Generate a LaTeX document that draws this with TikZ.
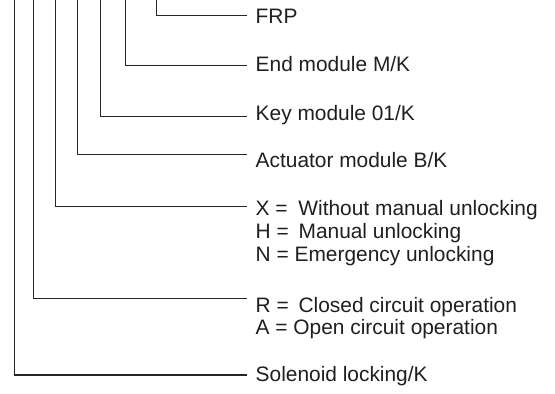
\documentclass[tikz,border=0pt]{standalone}
\usepackage{fontspec}
\setmainfont{Liberation Sans}
\begin{document}
\begin{tikzpicture}[x=1pt,y=1pt,
  lbl/.style={anchor=base west,inner sep=0pt,text=black!88,font=\fontsize{20.9}{22.8}\selectfont},
  conn/.style={draw=black!85,line width=1.1pt}]
\useasboundingbox (0,0) rectangle (555,394);
% labels (y = 394 - baseline in px)
\node[lbl] (frp) at (255.5,394-24) {FRP};
\node[lbl] (endm) at (255.5,394-72) {End module M/K};
\node[lbl] (key) at (255.5,394-120.7) {Key module 01/K};
\node[lbl] (act) at (255.5,394-167.7) {Actuator module B/K};
\node[lbl] (x) at (255.5,394-215.7) {X =\hspace{5pt} Without manual unlocking};
\node[lbl] (h) at (255.5,394-239) {H =\hspace{4pt} Manual unlocking};
\node[lbl] (n) at (255.5,394-261.5) {N = Emergency unlocking};
\node[lbl] (r) at (255.5,394-312.7) {R =\hspace{4pt} Closed circuit operation};
\node[lbl] (a) at (255.5,394-335) {A = Open circuit operation};
\node[lbl] (sol) at (255.5,394-381.7) {Solenoid locking/K};
% top ends of the vertical lines
\coordinate (t1) at (156.7,394);
\coordinate (t2) at (125.7,394);
\coordinate (t3) at (100.3,394);
\coordinate (t4) at (77.3,394);
\coordinate (t5) at (55.7,394);
\coordinate (t6) at (33.3,394);
\coordinate (t7) at (14.7,394);
% right ends of the leaders
\coordinate (e1) at (247.3,394-15.3);
\coordinate (e2) at (247.3,394-65.5);
\coordinate (e3) at (247.3,394-116.7);
\coordinate (e4) at (247.3,394-154.5);
\coordinate (e5) at (247.3,394-206.3);
\coordinate (e6) at (247.3,394-298.3);
\coordinate (e7) at (247.3,394-375);
\draw[conn] (t1) |- (e1);
\draw[conn] (t2) |- (e2);
\draw[conn] (t3) |- (e3);
\draw[conn] (t4) |- (e4);
\draw[conn] (t5) |- (e5);
\draw[conn] (t6) |- (e6);
\draw[conn] (t7) |- (e7);
\end{tikzpicture}
\end{document}
